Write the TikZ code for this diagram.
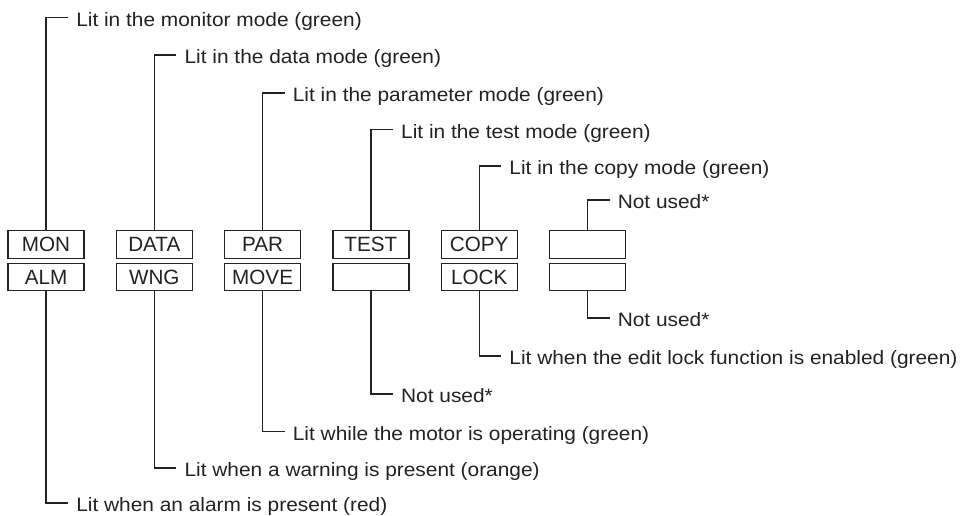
\documentclass[tikz,border=0pt]{standalone}
\usepackage{fontspec}
\setmainfont{Liberation Sans}
\newfontfamily\lblfont{Liberation Sans}[FakeStretch=1.08]
\definecolor{ink}{HTML}{222222}
\tikzset{
  wire/.style={draw=ink, line width=1pt},
  panel/.style={draw=ink, line width=1pt, minimum width=57pt, minimum height=20.6pt,
    inner sep=0pt, text height=11.1pt, text depth=0pt,
    font=\fontsize{15.5}{18}\selectfont, text=ink},
  lbl/.style={anchor=west, inner xsep=6pt, inner ysep=0pt, text height=13pt,
    text depth=0pt, font=\lblfont\fontsize{14.5}{17}\selectfont, text=ink},
}
\begin{document}
\begin{tikzpicture}[x=0.75pt, y=-0.75pt]
  \useasboundingbox (0,0) rectangle (967,516);

  % indicator panels, upper row
  \node[panel] (bMON)  at (46,244.5)    {MON};
  \node[panel] (bDATA) at (154.3,244.5) {DATA};
  \node[panel] (bPAR)  at (262.6,244.5) {PAR};
  \node[panel] (bTEST) at (370.9,244.5) {TEST};
  \node[panel] (bCOPY) at (479.2,244.5) {COPY};
  \node[panel] (bX1)   at (587.5,244.5) {};
  % indicator panels, lower row
  \node[panel] (bALM)  at (46,277)    {ALM};
  \node[panel] (bWNG)  at (154.3,277) {WNG};
  \node[panel] (bMOVE) at (262.6,277) {MOVE};
  \node[panel] (bX2)   at (370.9,277) {};
  \node[panel] (bLOCK) at (479.2,277) {LOCK};
  \node[panel] (bX3)   at (587.5,277) {};

  % descriptions of the upper row
  \node[lbl] (tMON)  at (68,17.7)    {Lit in the monitor mode (green)};
  \node[lbl] (tDATA) at (176.3,55)   {Lit in the data mode (green)};
  \node[lbl] (tPAR)  at (284.6,93)   {Lit in the parameter mode (green)};
  \node[lbl] (tTEST) at (392.9,129.5){Lit in the test mode (green)};
  \node[lbl] (tCOPY) at (501.2,166)  {Lit in the copy mode (green)};
  \node[lbl] (tX1)   at (609.5,200)  {Not used*};
  % descriptions of the lower row
  \node[lbl] (tX3)   at (609.5,318)  {Not used*};
  \node[lbl] (tLOCK) at (501.2,356)  {Lit when the edit lock function is enabled (green)};
  \node[lbl] (tX2)   at (392.9,394)  {Not used*};
  \node[lbl] (tMOVE) at (284.6,431.5){Lit while the motor is operating (green)};
  \node[lbl] (tWNG)  at (176.3,468)  {Lit when a warning is present (orange)};
  \node[lbl] (tALM)  at (68,503)     {Lit when an alarm is present (red)};

  % leader lines
  \foreach \b in {MON,DATA,PAR,TEST,COPY,X1}
    \draw[wire] (b\b.north) |- (t\b.west);
  \foreach \b in {ALM,WNG,MOVE,X2,LOCK,X3}
    \draw[wire] (b\b.south) |- (t\b.west);
\end{tikzpicture}
\end{document}
